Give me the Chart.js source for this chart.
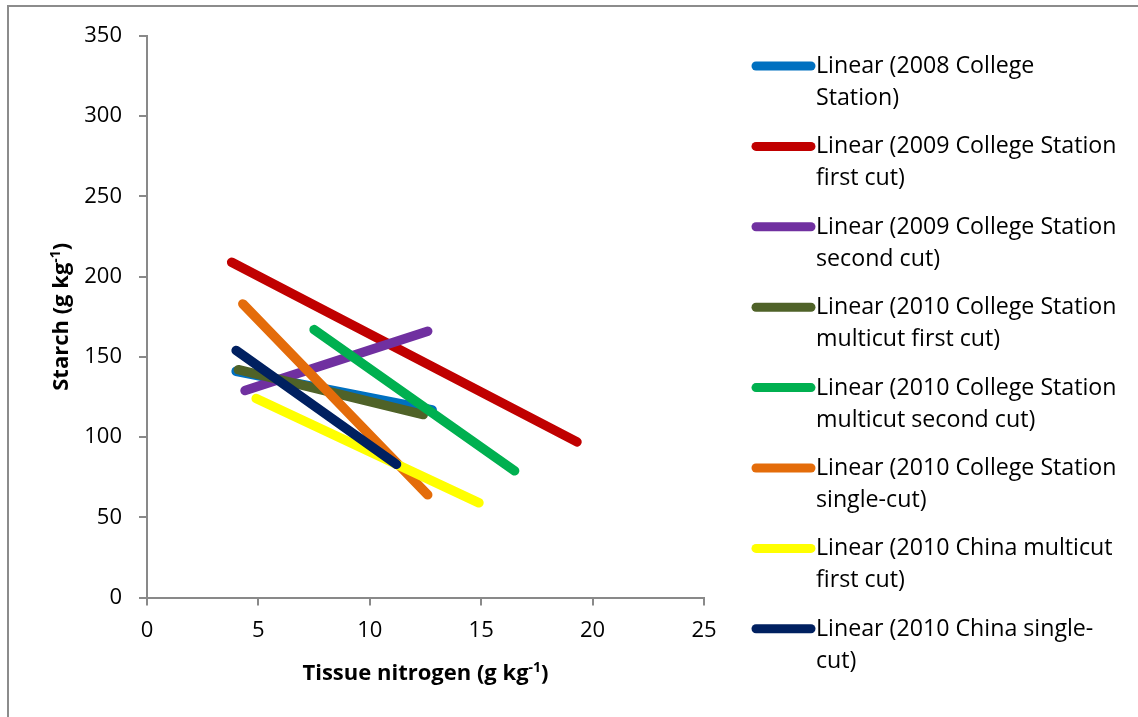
<!DOCTYPE html>
<html lang="en">
<head>
<meta charset="UTF-8" />
<title>Starch vs tissue nitrogen</title>
<script src="https://cdn.jsdelivr.net/npm/chart.js"></script>
<style>
  body { margin: 0; background: #fff; }
  canvas { display: block; }
</style>
</head>
<body>
<canvas id="chart" width="1138" height="717"></canvas>

<script>
// trendline endpoints (x = tissue N, y = starch)
const seriesLabels = [
  'Linear (2008 College Station)',
  'Linear (2009 College Station first cut)',
  'Linear (2009 College Station second cut)',
  'Linear (2010 College Station multicut first cut)',
  'Linear (2010 College Station multicut second cut)',
  'Linear (2010 College Station single-cut)',
  'Linear (2010 China multicut first cut)',
  'Linear (2010 China single-cut)'
];
const legendLines = [
  ['Linear (2008 College', 'Station)'],
  ['Linear (2009 College Station', 'first cut)'],
  ['Linear (2009 College Station', 'second cut)'],
  ['Linear (2010 College Station', 'multicut first cut)'],
  ['Linear (2010 College Station', 'multicut second cut)'],
  ['Linear (2010 College Station', 'single-cut)'],
  ['Linear (2010 China multicut', 'first cut)'],
  ['Linear (2010 China single-', 'cut)']
];
const colors = ['#0070C0', '#C00000', '#7030A0', '#4F6228', '#00B050', '#E46C0A', '#FFFF00', '#002060'];
const xStart = [4.0, 3.8, 4.4, 4.1, 7.5, 4.3, 4.9, 4.0];
const yStart = [141, 209, 129, 142, 167, 183, 124, 154];
const xEnd   = [12.8, 19.3, 12.6, 12.4, 16.5, 12.6, 14.9, 11.2];
const yEnd   = [117, 97, 166, 114, 79, 64, 59, 83];

const xTicks = [0, 5, 10, 15, 20, 25];
const yTicks = [0, 50, 100, 150, 200, 250, 300, 350];

const FONT = '"Open Sans", Lato, sans-serif';
const AXIS = '#898989';

const datasets = seriesLabels.map((lbl, i) => ({
  label: lbl,
  data: [{ x: xStart[i], y: yStart[i] }, { x: xEnd[i], y: yEnd[i] }],
  borderColor: colors[i],
  backgroundColor: colors[i],
  borderWidth: 9.5,
  borderCapStyle: 'round',
  showLine: true,
  pointRadius: 0,
  order: seriesLabels.length - 1 - i   // later series drawn on top
}));

// frame, axis titles (with superscripts) and the wrapped legend
const extras = {
  id: 'extras',
  beforeDraw(chart) {
    const c = chart.ctx;
    c.save();
    c.fillStyle = '#fff';
    c.fillRect(0, 0, chart.width, chart.height);
    c.strokeStyle = '#8c8c8c';
    c.lineWidth = 2;
    c.beginPath();
    c.moveTo(8, chart.height + 2);
    c.lineTo(8, 6);
    c.lineTo(chart.width + 2, 6);
    c.stroke();
    c.restore();
  },
  afterDraw(chart) {
    const c = chart.ctx;
    const area = chart.chartArea;
    c.save();

    // title with a raised "-1"
    function titleParts(x, y, before, sup, after) {
      c.font = 'bold 22px ' + FONT;
      const w1 = c.measureText(before).width;
      const w3 = c.measureText(after).width;
      c.font = 'bold 14px ' + FONT;
      const w2 = c.measureText(sup).width;
      let px = x - (w1 + w2 + w3) / 2;
      c.textAlign = 'left';
      c.textBaseline = 'alphabetic';
      c.fillStyle = '#000';
      c.font = 'bold 22px ' + FONT;
      c.fillText(before, px, y);
      px += w1;
      c.font = 'bold 14px ' + FONT;
      c.fillText(sup, px, y - 8);
      px += w2;
      c.font = 'bold 22px ' + FONT;
      c.fillText(after, px, y);
    }
    titleParts((area.left + area.right) / 2, 680, 'Tissue nitrogen (g kg', '-1', ')');

    c.save();
    c.translate(68, (area.top + area.bottom) / 2);
    c.rotate(-Math.PI / 2);
    titleParts(0, 0, 'Starch (g kg', '-1', ')');
    c.restore();

    // legend
    const lx0 = 756, lx1 = 811, tx = 816;
    legendLines.forEach((lines, i) => {
      const base = 73 + i * 80.4;
      c.strokeStyle = colors[i];
      c.lineWidth = 9;
      c.lineCap = 'round';
      c.beginPath();
      c.moveTo(lx0, base - 7);
      c.lineTo(lx1, base - 7);
      c.stroke();
      c.fillStyle = '#000';
      c.font = '23.2px ' + FONT;
      c.textAlign = 'left';
      c.textBaseline = 'alphabetic';
      lines.forEach((t, k) => c.fillText(t, tx, base + k * 32));
    });
    c.restore();
  }
};

new Chart(document.getElementById('chart'), {
  type: 'scatter',
  data: { datasets },
  options: {
    responsive: false,
    animation: false,
    layout: { padding: { left: 0, top: 36, right: 434, bottom: 0 } },
    plugins: {
      legend: { display: false },
      tooltip: { enabled: false }
    },
    scales: {
      x: {
        type: 'linear',
        min: 0, max: 25,
        afterBuildTicks: s => { s.ticks = xTicks.map(v => ({ value: v })); },
        afterFit: s => { s.height = 119.5; },
        border: { color: AXIS, width: 2 },
        grid: { drawOnChartArea: false, color: AXIS, lineWidth: 2, tickLength: 8 },
        ticks: { color: '#000', font: { family: FONT, size: 22 }, padding: 12, maxRotation: 0 }
      },
      y: {
        type: 'linear',
        min: 0, max: 350,
        afterBuildTicks: s => { s.ticks = yTicks.map(v => ({ value: v })); },
        afterFit: s => { s.width = 147; },
        border: { color: AXIS, width: 2 },
        grid: { drawOnChartArea: false, color: AXIS, lineWidth: 2, tickLength: 8 },
        ticks: { color: '#000', font: { family: FONT, size: 22 }, padding: 17 }
      }
    }
  },
  plugins: [extras]
});
</script>
</body>
</html>
